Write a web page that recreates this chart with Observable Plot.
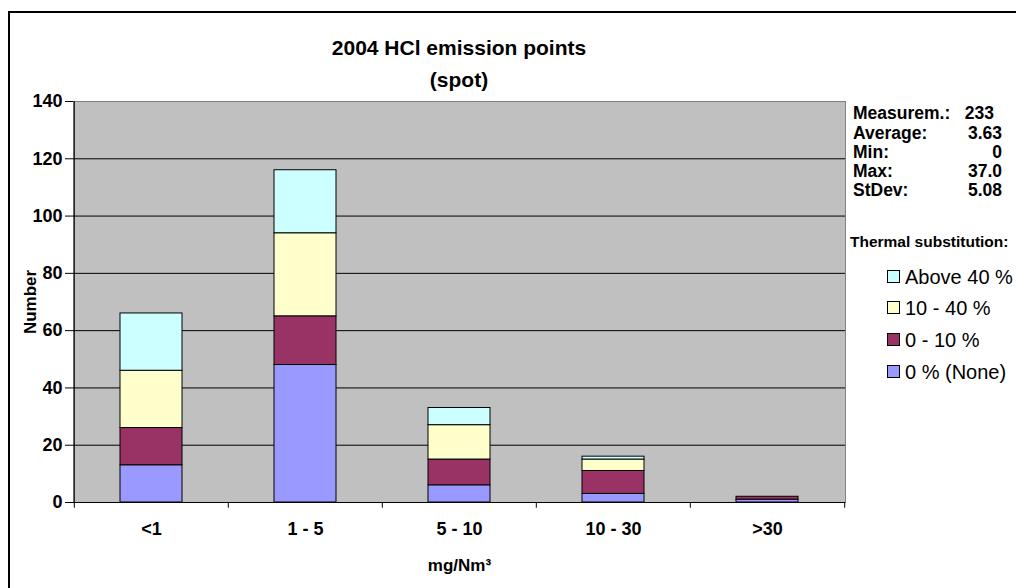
<!DOCTYPE html>
<html>
<head>
<meta charset="utf-8">
<script src="https://cdn.jsdelivr.net/npm/d3@7"></script>
<script src="https://cdn.jsdelivr.net/npm/@observablehq/plot@0.6"></script>
<style>
  html, body { margin: 0; padding: 0; background: #fff; }
  body { width: 1016px; height: 588px; position: relative; overflow: hidden;
         font-family: "Liberation Sans", Arial, Helvetica, sans-serif; color: #000; }
  #border { position: absolute; left: 8px; top: 11px; width: 1100px; height: 700px;
            border: 2px solid #000; box-sizing: border-box; pointer-events: none; }
  #title { position: relative; height: 90px; width: 918px; font-weight: bold; font-size: 21px; }
  #title div { position: absolute; left: 0; width: 100%; text-align: center; line-height: 24px; }
  #chart { position: relative; }
  #chart svg { display: block; overflow: visible; }
  .stat { position: absolute; font-weight: bold; font-size: 17.5px; line-height: 20px; }
  .thermal { position: absolute; font-weight: bold; font-size: 15.5px; line-height: 20px; left: 850px; }
  .leg { position: absolute; font-size: 20px; line-height: 24px; left: 887px; white-space: nowrap; }
  .leg span.sw { display: inline-block; width: 11px; height: 11px; border: 1px solid #000;
                 margin-right: 5px; vertical-align: 1px; }
</style>
</head>
<body>
<div id="title"><div style="top:36px">2004 HCl emission points</div><div style="top:68px">(spot)</div></div>
<div id="chart"></div>
<div id="side"></div>
<div id="border"></div>
<script>
// ---- data ----
const categories = ["<1", "1 - 5", "5 - 10", "10 - 30", ">30"];
const seriesNames = ["0 % (None)", "0 - 10 %", "10 - 40 %", "Above 40 %"];
const seriesColors = ["#9999FF", "#993366", "#FFFFCC", "#CCFFFF"];
const noneValues = [13, 48, 6, 3, 1];
const lowValues = [13, 17, 9, 8, 1];
const midValues = [20, 29, 12, 4, 0];
const highValues = [20, 22, 6, 1, 0];
const yTicks = [0, 20, 40, 60, 80, 100, 120, 140];
const statLabels = ["Measurem.:", "Average:", "Min:", "Max:", "StDev:"];
const statValues = ["233", "3.63", "0", "37.0", "5.08"];
const legendTitle = "Thermal substitution:";
const xTitle = "mg/Nm\u00B3";
const yTitle = "Number";

const seriesValues = [noneValues, lowValues, midValues, highValues];
const data = [];
seriesNames.forEach((s, si) => categories.forEach((c, ci) =>
  data.push({cat: c, series: s, value: seriesValues[si][ci]})));

// ---- layout ----
const W = 1016, H = 498, ML = 73, MR = 171, MT = 11, MB = 86;
const step = (W - ML - MR) / categories.length;
const font = '"Liberation Sans", Arial, Helvetica, sans-serif';

const chart = Plot.plot({
  width: W, height: H,
  marginLeft: ML, marginRight: MR, marginTop: MT, marginBottom: MB,
  style: {fontFamily: font, background: "transparent", overflow: "visible", color: "#000"},
  x: {domain: categories, paddingInner: 0.6, paddingOuter: 0.3, label: null},
  y: {domain: [0, 140], label: null},
  color: {domain: seriesNames, range: seriesColors},
  marks: [
    Plot.frame({fill: "#C0C0C0", stroke: "#808080"}),
    Plot.gridY(yTicks.filter(t => t > 0 && t < 140), {stroke: "#000", strokeOpacity: 1}),
    Plot.barY(data, {x: "cat", y: "value", fill: "series", stroke: "#000", strokeWidth: 1}),
    Plot.ruleY([0], {stroke: "#000"}),
    Plot.ruleX([categories[0]], {x: d => d, dx: -step / 2, y1: 0, y2: 140, stroke: "#000"}),
    Plot.ruleX(categories, {x: d => d, dx: -step / 2, y1: 0, y2: -2, stroke: "#000"}),
    Plot.ruleX([categories[categories.length - 1]], {x: d => d, dx: step / 2, y1: 0, y2: -2, stroke: "#000"}),
    Plot.axisY(yTicks, {tickSize: 8, tickPadding: 3, fontSize: 18, fontWeight: "bold", label: null, stroke: "#000"}),
    Plot.axisX({tickSize: 0, tickPadding: 20, fontSize: 18, fontWeight: "bold", label: null}),
    Plot.text([yTitle], {frameAnchor: "left", dx: -43, rotate: -90, textAnchor: "middle", fontSize: 17, fontWeight: "bold", text: d => d}),
    Plot.text([xTitle], {frameAnchor: "bottom", dy: 68, textAnchor: "middle", fontSize: 17, fontWeight: "bold", text: d => d})
  ]
});
document.getElementById("chart").appendChild(chart);

// ---- side panel: statistics and legend ----
const side = document.getElementById("side");
const statY = [113, 133, 152, 171, 190];
statLabels.forEach((lab, i) => {
  const a = document.createElement("div");
  a.className = "stat"; a.textContent = lab;
  a.style.left = "853px"; a.style.top = (statY[i] - 10) + "px";
  side.appendChild(a);
  const b = document.createElement("div");
  b.className = "stat"; b.textContent = statValues[i];
  b.style.right = (1016 - (i === 0 ? 994 : 1002)) + "px"; b.style.top = (statY[i] - 10) + "px";
  side.appendChild(b);
});
const th = document.createElement("div");
th.className = "thermal"; th.textContent = legendTitle; th.style.top = (242 - 10) + "px";
side.appendChild(th);
const legY = [277, 308, 340, 372];
// legend lists top series first
[...seriesNames].reverse().forEach((s, i) => {
  const d = document.createElement("div");
  d.className = "leg"; d.style.top = (legY[i] - 12) + "px";
  const sw = document.createElement("span");
  sw.className = "sw"; sw.style.background = seriesColors[seriesNames.indexOf(s)];
  d.appendChild(sw);
  d.appendChild(document.createTextNode(s));
  side.appendChild(d);
});
</script>
</body>
</html>
